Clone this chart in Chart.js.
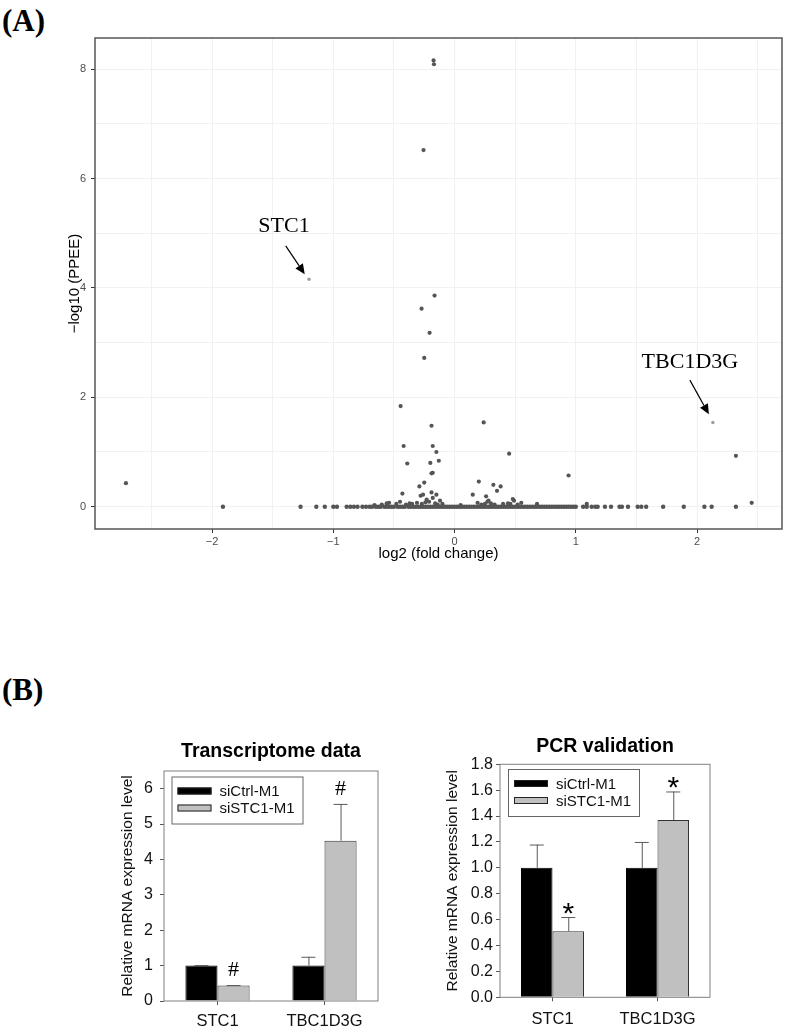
<!DOCTYPE html>
<html>
<head>
<meta charset="utf-8">
<script src="https://cdn.jsdelivr.net/npm/chart.js@4.4.1/dist/chart.umd.min.js"></script>
<style>
html, body { margin: 0; padding: 0; background: #fff; }
body { width: 789px; height: 1035px; position: relative; overflow: hidden; }
.tag { position: absolute; font-family: "Liberation Serif", "Times New Roman", serif; font-weight: bold; font-size: 31px; line-height: 31px; }
canvas { position: absolute; }
</style>
</head>
<body>
<div class="tag" style="left:2px;top:5px;">(A)</div>
<div class="tag" style="left:2px;top:674px;">(B)</div>
<canvas id="volcano" width="789" height="580" style="left:0;top:0;"></canvas>
<canvas id="rnaChart" width="300" height="305" style="left:90px;top:730px;"></canvas>
<canvas id="pcrChart" width="300" height="305" style="left:430px;top:730px;"></canvas>
<script>
const SANS = '"Liberation Sans", Arial, Helvetica, sans-serif';
const SERIF = '"Liberation Serif", "Times New Roman", serif';

/* ---------- (A) volcano plot data ---------- */
// genes sitting on the zero line (PPEE ~ 1)
const zeroX = [-1.91, -1.27, -1.14, -1.07, -1.0, -0.97, -0.89, -0.86, -0.83, -0.8, -0.76, -0.73,
  -0.7, -0.68, -0.65, -0.63, -0.61, -0.58, -0.56, -0.54, -0.52, -0.5, -0.47, -0.45, -0.43, -0.41,
  -0.38, -0.36, -0.34, -0.32, -0.3, -0.28, -0.26, -0.24, -0.22, -0.2, -0.18, -0.16, -0.14, -0.12,
  -0.1, -0.08, -0.06, -0.04, -0.02, 0.0, 0.02, 0.04, 0.06, 0.08, 0.1, 0.12, 0.14, 0.16, 0.18,
  0.2, 0.22, 0.24, 0.26, 0.28, 0.3, 0.32, 0.34, 0.36, 0.38, 0.4, 0.42, 0.44, 0.46, 0.48, 0.5,
  0.52, 0.54, 0.56, 0.58, 0.6, 0.62, 0.64, 0.66, 0.68, 0.7, 0.72, 0.74, 0.76, 0.78, 0.8, 0.82,
  0.84, 0.86, 0.88, 0.9, 0.92, 0.94, 0.96, 0.98, 1.0,
  1.06, 1.09, 1.13, 1.16, 1.18, 1.24, 1.29, 1.36, 1.38, 1.43, 1.51, 1.54, 1.58, 1.72, 1.89,
  2.06, 2.12, 2.32];
// genes off the zero line
const sigX = [-0.173, -0.17, -0.256, -0.165, -0.272, -0.206, -0.25, -0.445, -0.19, 0.24, -0.42,
  -0.18, -0.15, -0.39, -0.2, -0.13, -0.18, -0.19, 0.45, 0.94, 2.32, 0.2, 0.32, 0.38, 0.35, 0.15,
  -0.25, -0.29, -0.43, 2.45, 1.09, -2.71, -0.28, -0.26, -0.19, -0.15, -0.45, -0.23, -0.18, -0.12,
  -0.54, -0.56, -0.31, 0.26, 0.28, 0.48, 0.49, 0.19, 0.55, 0.68, -0.6, -0.35, -0.21, -0.16, -0.1,
  0.05, 0.3, 0.4, 0.52, -0.66, -0.48, -0.4, -0.37, -0.27, -0.24, -0.14, 0.22, 0.25, 0.33, 0.44,
  0.46, 0.27];
const sigY = [8.16, 8.09, 6.52, 3.86, 3.62, 3.18, 2.72, 1.84, 1.48, 1.54, 1.11,
  1.11, 1.0, 0.79, 0.8, 0.84, 0.62, 0.61, 0.97, 0.57, 0.93, 0.46, 0.4, 0.37, 0.29, 0.22,
  0.44, 0.37, 0.24, 0.07, 0.05, 0.43, 0.2, 0.22, 0.26, 0.22, 0.09, 0.13, 0.16, 0.11,
  0.07, 0.06, 0.07, 0.19, 0.11, 0.14, 0.11, 0.07, 0.07, 0.05, 0.04, 0.05, 0.09, 0.06, 0.05,
  0.03, 0.06, 0.05, 0.04, 0.03, 0.05, 0.04, 0.06, 0.05, 0.08, 0.04, 0.04, 0.05, 0.04, 0.06,
  0.05, 0.09];
// labelled genes
const hitGenes = ['STC1', 'TBC1D3G'];
const hitX = [-1.2, 2.13];
const hitY = [4.16, 1.54];

const xGrid = [-2.5, -2, -1.5, -1, -0.5, 0, 0.5, 1, 1.5, 2, 2.5];
const xLabelled = [-2, -1, 0, 1, 2];
const yGrid = [0, 1, 2, 3, 4, 5, 6, 7, 8];
const yLabelled = [0, 2, 4, 6, 8];

/* ---------- (B) bar chart data ---------- */
const genes = ['STC1', 'TBC1D3G'];
const groups = ['siCtrl-M1', 'siSTC1-M1'];
const rnaCtrl = [1.0, 1.0];
const rnaCtrlErr = [0.015, 0.25];
const rnaSi = [0.435, 4.53];
const rnaSiErr = [0.015, 1.04];
const rnaMarks = ['#', '#'];
const pcrCtrl = [1.0, 1.0];
const pcrCtrlErr = [0.18, 0.2];
const pcrSi = [0.51, 1.37];
const pcrSiErr = [0.11, 0.22];
const pcrMarks = ['*', '*'];

function minus(v) { return v < 0 ? '\u2212' + Math.abs(v) : String(v); }

/* frame round the plot area */
const framePlugin = {
  id: 'frame',
  afterDatasetsDraw(chart, args, opts) {
    const a = chart.chartArea, ctx = chart.ctx;
    ctx.save();
    ctx.strokeStyle = opts.color;
    ctx.lineWidth = opts.width;
    ctx.strokeRect(a.left, a.top, a.right - a.left, a.bottom - a.top);
    ctx.restore();
  }
};

/* text + arrow labels for the two genes */
const arrowPlugin = {
  id: 'geneArrows',
  afterDatasetsDraw(chart) {
    const ctx = chart.ctx, xs = chart.scales.x, ys = chart.scales.y;
    const offs = [
      { text: [-25, -53.5], from: [-23.3, -33.3], to: [-4.3, -5] },
      { text: [-23, -61.6], from: [-23, -42.3], to: [-4, -8.3] }
    ];
    ctx.save();
    hitGenes.forEach((g, i) => {
      const px = xs.getPixelForValue(hitX[i]), py = ys.getPixelForValue(hitY[i]);
      const o = offs[i];
      ctx.fillStyle = '#000';
      ctx.font = '22px ' + SERIF;
      ctx.textAlign = 'center';
      ctx.textBaseline = 'middle';
      ctx.fillText(g, px + o.text[0], py + o.text[1] + 1);
      const x1 = px + o.from[0], y1 = py + o.from[1], x2 = px + o.to[0], y2 = py + o.to[1];
      const ang = Math.atan2(y2 - y1, x2 - x1), L = 10, W = 4.5;
      const bx = x2 - L * Math.cos(ang), by = y2 - L * Math.sin(ang);
      ctx.strokeStyle = '#000';
      ctx.lineWidth = 1.2;
      ctx.beginPath(); ctx.moveTo(x1, y1); ctx.lineTo(bx, by); ctx.stroke();
      ctx.beginPath();
      ctx.moveTo(x2, y2);
      ctx.lineTo(bx + W * Math.sin(ang), by - W * Math.cos(ang));
      ctx.lineTo(bx - W * Math.sin(ang), by + W * Math.cos(ang));
      ctx.closePath(); ctx.fill();
    });
    ctx.restore();
  }
};

new Chart(document.getElementById('volcano'), {
  type: 'scatter',
  data: {
    datasets: [
      { data: zeroX.map(x => ({ x: x, y: 0 })), backgroundColor: '#555', borderWidth: 0, pointRadius: 2.2 },
      { data: sigX.map((x, i) => ({ x: x, y: sigY[i] })), backgroundColor: '#555', borderWidth: 0, pointRadius: 2.1 },
      { data: hitX.map((x, i) => ({ x: x, y: hitY[i] })), backgroundColor: '#9d9d9d', borderWidth: 0, pointRadius: 1.7 }
    ]
  },
  options: {
    responsive: false,
    animation: false,
    devicePixelRatio: 1,
    layout: { padding: { left: 0, top: 38, right: 7, bottom: 0 } },
    plugins: { legend: { display: false }, tooltip: { enabled: false }, frame: { color: '#555', width: 1.5 } },
    scales: {
      x: {
        type: 'linear', min: -2.965, max: 2.70,
        afterBuildTicks: s => { s.ticks = xGrid.map(v => ({ value: v })); },
        afterFit: s => { s.height = 51; },
        border: { display: false },
        grid: {
          color: '#f1f1f1', lineWidth: 1, tickLength: 4,
          tickColor: c => xLabelled.includes(c.tick.value) ? '#333' : 'rgba(0,0,0,0)'
        },
        ticks: {
          autoSkip: false, maxRotation: 0, padding: 2, color: '#4d4d4d',
          font: { family: SANS, size: 11 },
          callback: v => xLabelled.includes(v) ? minus(v) : ''
        },
        title: { display: true, text: 'log2 (fold change)', color: '#000', font: { family: SANS, size: 15 }, padding: { top: 0, bottom: 17 } }
      },
      y: {
        type: 'linear', min: -0.408, max: 8.57,
        afterBuildTicks: s => { s.ticks = yGrid.map(v => ({ value: v })); },
        afterFit: s => { s.width = 95; },
        border: { display: false },
        grid: {
          color: '#f1f1f1', lineWidth: 1, tickLength: 4,
          tickColor: c => yLabelled.includes(c.tick.value) ? '#333' : 'rgba(0,0,0,0)'
        },
        ticks: {
          autoSkip: false, padding: 5, color: '#4d4d4d',
          font: { family: SANS, size: 11 },
          callback: v => yLabelled.includes(v) ? minus(v) : ''
        },
        title: { display: true, text: '\u2212log10 (PPEE)', color: '#000', font: { family: SANS, size: 15 }, padding: { top: 66, bottom: 0 } }
      }
    }
  },
  plugins: [framePlugin, arrowPlugin]
});

/* error bars, significance marks and boxed legend for the bar charts */
const barExtras = {
  id: 'barExtras',
  afterDatasetsDraw(chart, args, opts) {
    const ctx = chart.ctx, ys = chart.scales.y, a = chart.chartArea;
    ctx.save();
    chart.data.datasets.forEach((ds, di) => {
      const meta = chart.getDatasetMeta(di);
      meta.data.forEach((bar, i) => {
        const top = ys.getPixelForValue(ds.data[i] + ds.errors[i]);
        ctx.strokeStyle = '#5a5a5a';
        ctx.lineWidth = 1;
        ctx.beginPath();
        ctx.moveTo(bar.x + 0.5, bar.y);
        ctx.lineTo(bar.x + 0.5, top);
        ctx.moveTo(bar.x - 7, top + 0.5);
        ctx.lineTo(bar.x + 7, top + 0.5);
        ctx.stroke();
        if (ds.marks) {
          ctx.font = opts.markFont;
          ctx.fillStyle = '#000';
          ctx.textAlign = 'center';
          ctx.textBaseline = 'alphabetic';
          const m = ctx.measureText(ds.marks[i]);
          const mid = (m.actualBoundingBoxAscent - m.actualBoundingBoxDescent) / 2;
          ctx.fillText(ds.marks[i], bar.x, top - opts.markGap + mid);
        }
      });
    });
    // legend box
    const lx = a.left + opts.legend[0], ly = a.top + opts.legend[1];
    ctx.strokeStyle = '#666';
    ctx.lineWidth = 1;
    ctx.strokeRect(lx + 0.5, ly + 0.5, 131, 47);
    chart.data.datasets.forEach((ds, di) => {
      const cy = ly + 14.5 + di * 17;
      ctx.fillStyle = ds.backgroundColor;
      ctx.fillRect(lx + 6, cy - 3.5, 34, 7);
      ctx.strokeStyle = '#222';
      ctx.strokeRect(lx + 6.5, cy - 3, 33, 6);
      ctx.fillStyle = '#111';
      ctx.font = '15px ' + SANS;
      ctx.textAlign = 'left';
      ctx.textBaseline = 'middle';
      ctx.fillText(ds.label, lx + 48, cy + 1);
    });
    ctx.restore();
  }
};

function barChart(id, cfg) {
  return new Chart(document.getElementById(id), {
    type: 'bar',
    data: {
      labels: genes,
      datasets: [
        { label: groups[0], data: cfg.ctrl, errors: cfg.ctrlErr, backgroundColor: '#000', borderColor: '#000', borderWidth: 1 },
        { label: groups[1], data: cfg.si, errors: cfg.siErr, marks: cfg.marks, backgroundColor: '#c0c0c0', borderColor: '#333', borderWidth: 1 }
      ]
    },
    options: {
      responsive: false,
      animation: false,
      devicePixelRatio: 1,
      categoryPercentage: 0.6,
      barPercentage: 1.0,
      layout: { padding: { left: 0, top: 0, right: cfg.padRight, bottom: 0 } },
      plugins: {
        legend: { display: false },
        tooltip: { enabled: false },
        title: {
          display: true, text: cfg.title, fullSize: false, color: '#000',
          font: { family: SANS, size: 19.5, weight: 'bold' },
          padding: cfg.titlePad
        },
        frame: { color: '#808080', width: 1 },
        barExtras: { markFont: cfg.markFont, markGap: cfg.markGap, legend: cfg.legendAt }
      },
      scales: {
        x: {
          afterFit: s => { s.height = cfg.xHeight; },
          border: { display: false },
          grid: { display: true, drawOnChartArea: false, drawTicks: true, tickLength: 4, tickColor: '#555', offset: false },
          ticks: { color: '#111', padding: cfg.xPad, font: { family: SANS, size: 16.5 } }
        },
        y: {
          min: 0, max: cfg.yMax,
          afterFit: s => { s.width = cfg.yWidth; },
          border: { display: false },
          grid: { display: true, drawOnChartArea: false, drawTicks: true, tickLength: 4, tickColor: '#555' },
          ticks: {
            stepSize: cfg.yStep, includeBounds: false, color: '#111', padding: cfg.yPad,
            font: { family: SANS, size: 16 },
            callback: v => v.toFixed(cfg.digits)
          },
          title: {
            display: true, text: 'Relative mRNA expression level', color: '#111',
            font: { family: SANS, size: 15.5 }, padding: { top: cfg.yTitlePad, bottom: 0 }
          }
        }
      }
    },
    plugins: [framePlugin, barExtras]
  });
}

barChart('rnaChart', {
  title: 'Transcriptome data', ctrl: rnaCtrl, ctrlErr: rnaCtrlErr, si: rnaSi, siErr: rnaSiErr, marks: rnaMarks,
  yMax: 6.5, yStep: 1, digits: 0, yWidth: 74, yPad: 7, yTitlePad: 28.7, xHeight: 34, xPad: 6.8, padRight: 12,
  titlePad: { top: 10.3, bottom: 7.3 }, markFont: '22px ' + SERIF, markGap: 16, legendAt: [7.5, 5.5]
});
barChart('pcrChart', {
  title: 'PCR validation', ctrl: pcrCtrl, ctrlErr: pcrCtrlErr, si: pcrSi, siErr: pcrSiErr, marks: pcrMarks,
  yMax: 1.8, yStep: 0.2, digits: 1, yWidth: 70, yPad: 3, yTitlePad: 13.7, xHeight: 37.7, xPad: 8.1, padRight: 20,
  titlePad: { top: 5.0, bottom: 5.9 }, markFont: '30px ' + SANS, markGap: 9, legendAt: [8, 4.7]
});
</script>
</body>
</html>
